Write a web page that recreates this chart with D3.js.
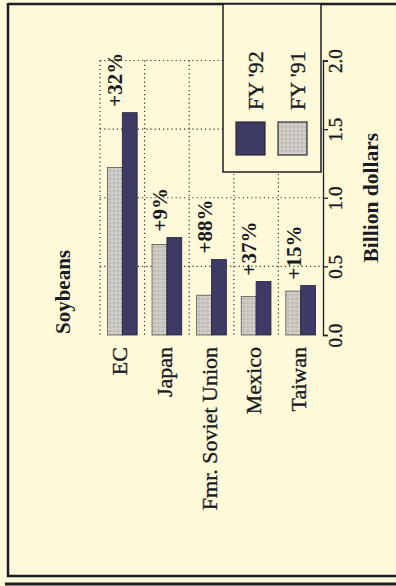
<!DOCTYPE html>
<html>
<head>
<meta charset="utf-8">
<script src="https://cdn.jsdelivr.net/npm/d3@7"></script>
<style>
  html, body { margin: 0; padding: 0; background: #fdf9d9; }
  svg { display: block; }
  text { font-family: "Liberation Serif", "Times New Roman", serif; fill: #1a1a22; }
  .thick { stroke: #1a1a22; stroke-width: 0.35px; }
</style>
</head>
<body>
<svg id="chart" width="396" height="586"></svg>
<script>
// ---- data ----
const categories = ["EC", "Japan", "Fmr. Soviet Union", "Mexico", "Taiwan"];
const fy91 = [1.22, 0.66, 0.29, 0.28, 0.32];
const fy92 = [1.62, 0.71, 0.55, 0.39, 0.36];
const changes = ["+32%", "+9%", "+88%", "+37%", "+15%"];
const seriesNames = ["FY '91", "FY '92"];
const tickValues = [0, 0.5, 1.0, 1.5, 2.0];
const title = "Soybeans";
const axisTitle = "Billion dollars";

// ---- setup ----
const svg = d3.select("#chart");
const bg = "#fdf9d9";
const dark = "#3d3a66";
const light = "#c9c6c0";
const ink = "#1e1e26";

const defs = svg.append("defs");
const pat = defs.append("pattern").attr("id", "stip")
  .attr("width", 4).attr("height", 4).attr("patternUnits", "userSpaceOnUse");
pat.append("rect").attr("width", 4).attr("height", 4).attr("fill", light);
pat.append("rect").attr("x", 0).attr("y", 0).attr("width", 1).attr("height", 1).attr("fill", "#e4e2de");
pat.append("rect").attr("x", 2).attr("y", 2).attr("width", 1).attr("height", 1).attr("fill", "#aeaaa4");
pat.append("rect").attr("x", 3).attr("y", 1).attr("width", 1).attr("height", 1).attr("fill", "#dddad5");
pat.append("rect").attr("x", 1).attr("y", 3).attr("width", 1).attr("height", 1).attr("fill", "#b7b3ad");

// scales: categories run left->right, values run bottom->top (rotated chart)
const x = d3.scaleBand().domain(categories).range([100, 323]).paddingInner(0).paddingOuter(0);
const x1 = d3.scaleBand().domain(seriesNames).range([0, x.bandwidth()]).paddingInner(0).paddingOuter(0.5);
const y = d3.scaleLinear().domain([0, 2]).range([335, 60.5]);

// frame
const frame = svg.append("g").attr("stroke", ink).attr("fill", "none");
frame.append("line").attr("x1", 8).attr("x2", 396).attr("y1", 4).attr("y2", 4).attr("stroke-width", 2.5);
frame.append("line").attr("x1", 8).attr("x2", 8).attr("y1", 3).attr("y2", 577).attr("stroke-width", 2.5);
frame.append("line").attr("x1", 7).attr("x2", 396).attr("y1", 576).attr("y2", 576).attr("stroke-width", 2.5);
frame.append("line").attr("x1", 5).attr("x2", 396).attr("y1", 584).attr("y2", 584).attr("stroke-width", 3);

// grid (dotted)
const grid = svg.append("g").attr("stroke", "#333").attr("stroke-width", 1.2)
  .attr("stroke-dasharray", "1.2,3");
grid.selectAll("line.h").data(tickValues.filter(d => d > 0)).join("line")
  .attr("x1", 100).attr("x2", 323)
  .attr("y1", d => y(d)).attr("y2", d => y(d));
grid.selectAll("line.v").data(categories).join("line")
  .attr("x1", d => x(d)).attr("x2", d => x(d))
  .attr("y1", y(2)).attr("y2", y(0));

// bars
const groups = svg.append("g").selectAll("g").data(categories).join("g")
  .attr("transform", d => `translate(${x(d)},0)`);
groups.append("rect")
  .attr("x", x1("FY '91")).attr("width", x1.bandwidth())
  .attr("y", (d, i) => y(fy91[i])).attr("height", (d, i) => y(0) - y(fy91[i]))
  .attr("fill", "url(#stip)").attr("stroke", "#555").attr("stroke-width", 0.8);
groups.append("rect")
  .attr("x", x1("FY '92")).attr("width", x1.bandwidth())
  .attr("y", (d, i) => y(fy92[i])).attr("height", (d, i) => y(0) - y(fy92[i]))
  .attr("fill", dark).attr("stroke", "#24223a").attr("stroke-width", 0.8);

// percentage change labels
svg.append("g").selectAll("text").data(categories).join("text")
  .attr("transform", (d, i) => `translate(${x(d) + x.bandwidth() / 2},${y(fy92[i]) - 6}) rotate(-90)`)
  .attr("text-anchor", "start")
  .style("font-size", "21px").style("font-weight", "bold")
  .text((d, i) => changes[i]);

// category labels
svg.append("g").selectAll("text").data(categories).join("text")
  .attr("class", "thick")
  .attr("transform", d => `translate(${x(d) + x.bandwidth() / 2 + 5},347) rotate(-90)`)
  .attr("text-anchor", "end")
  .style("font-size", "22px")
  .text(d => d);

// value axis
const axis = d3.axisRight(y).tickValues(tickValues).tickFormat(d3.format(".1f"))
  .tickSize(5).tickSizeOuter(5);
const ag = svg.append("g").attr("transform", "translate(323,0)").call(axis);
ag.select(".domain").attr("stroke", ink).attr("stroke-width", 1.3);
ag.selectAll(".tick line").attr("stroke", ink).attr("stroke-width", 1.3);
ag.selectAll(".tick text")
  .attr("class", "thick")
  .attr("x", 0).attr("dy", 0)
  .attr("transform", "translate(19,0) rotate(-90)")
  .attr("text-anchor", "middle")
  .style("font-size", "19px").style("font-family", "'Liberation Serif', serif")
  .attr("fill", ink);

// axis title
svg.append("text")
  .attr("transform", `translate(378,${(y(0) + y(2)) / 2}) rotate(-90)`)
  .attr("text-anchor", "middle")
  .style("font-size", "21.5px").style("font-weight", "bold")
  .text(axisTitle);

// chart title
svg.append("text")
  .attr("transform", "translate(70,334) rotate(-90)")
  .attr("text-anchor", "start")
  .style("font-size", "21px").style("font-weight", "bold")
  .text(title);

// legend
const lg = svg.append("g");
lg.append("rect").attr("x", 223).attr("y", 4).attr("width", 98).attr("height", 168)
  .attr("fill", bg).attr("stroke", ink).attr("stroke-width", 1.5);
const legendItems = [
  { name: seriesNames[1], fill: dark },
  { name: seriesNames[0], fill: "url(#stip)" }
];
legendItems.forEach((it, k) => {
  lg.append("rect").attr("x", 236 + k * 42).attr("y", 122).attr("width", 29).attr("height", 33)
    .attr("fill", it.fill).attr("stroke", "#2a2a33").attr("stroke-width", 1.2);
  lg.append("text")
    .attr("class", "thick")
    .attr("transform", `translate(${263 + k * 42},110) rotate(-90)`)
    .attr("text-anchor", "start")
    .style("font-size", "22px")
    .text(it.name);
});
</script>
</body>
</html>
